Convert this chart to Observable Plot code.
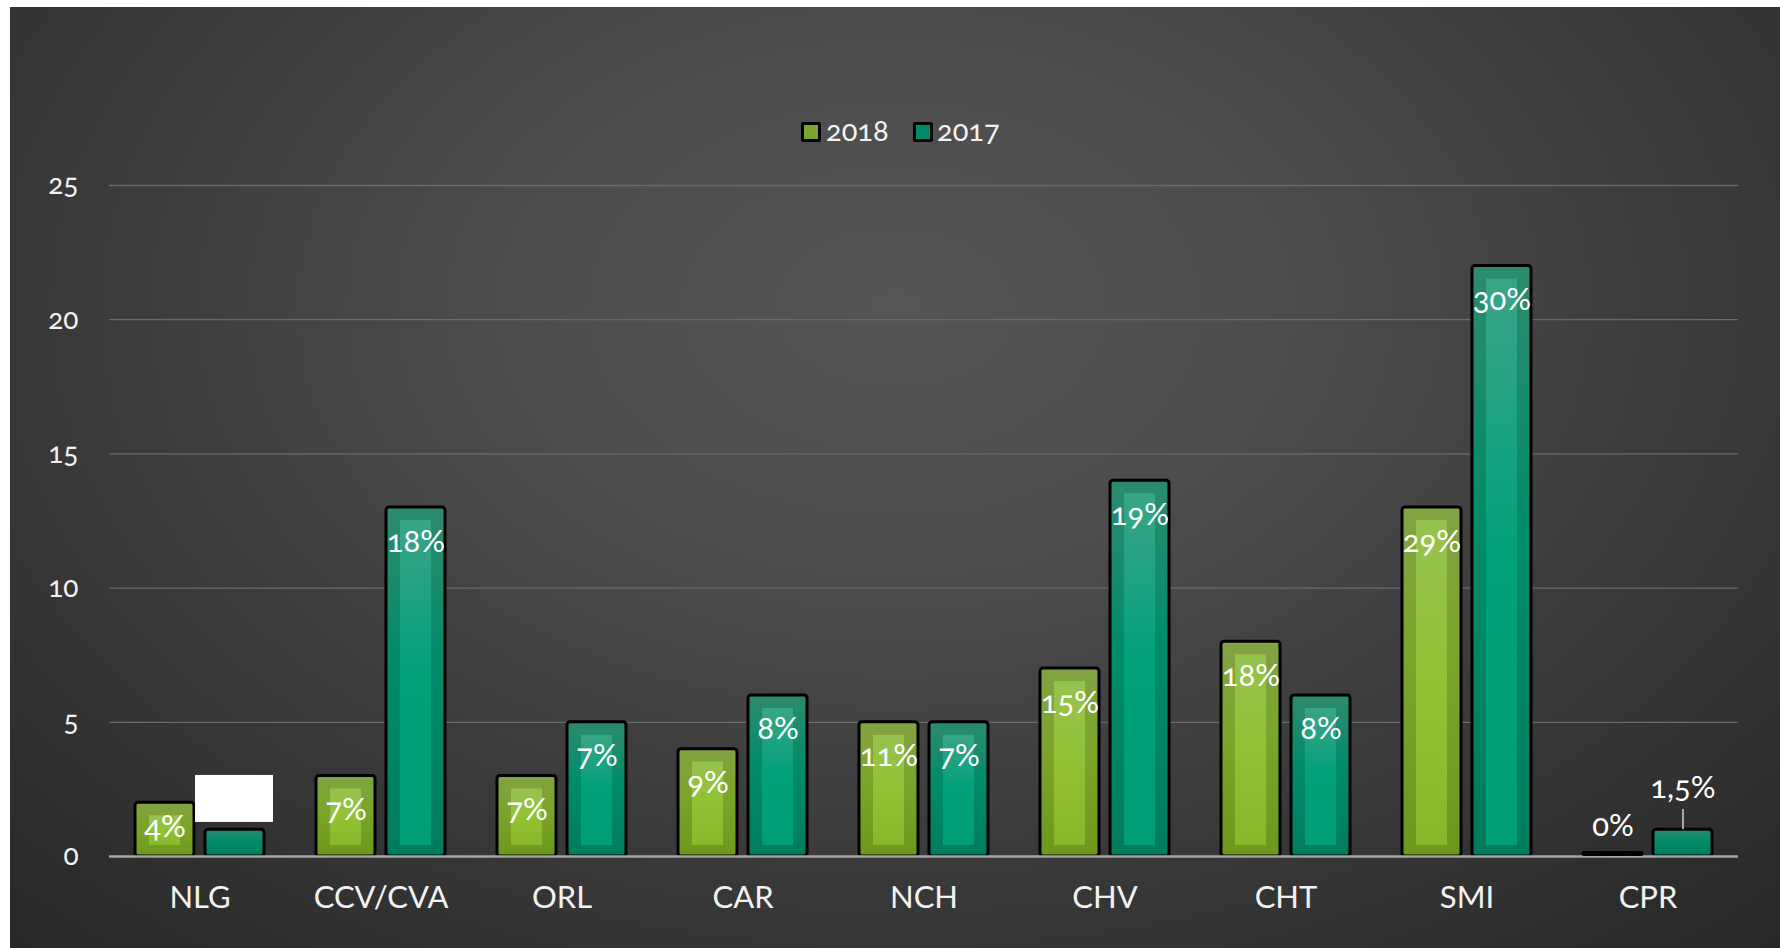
<!DOCTYPE html>
<html>
<head>
<meta charset="utf-8">
<script src="https://cdn.jsdelivr.net/npm/d3@7"></script>
<script src="https://cdn.jsdelivr.net/npm/@observablehq/plot@0.6"></script>
<style>
  html, body { margin: 0; padding: 0; background: #fff; }
  body { width: 1780px; height: 948px; overflow: hidden; position: relative; font-family: Lato, "Open Sans", sans-serif; }
  #panel {
    position: absolute; left: 10px; top: 7px; width: 1770px; height: 941px;
    background: radial-gradient(ellipse 75% 95% at 50% 32%, #555555 0%, #4c4c4c 30%, #383838 65%, #262626 100%);
    overflow: hidden;
  }
  #chart { position: absolute; left: 0; top: 0; }
  .leg { position: absolute; color: #f2f2f2; font-size: 29px; line-height: 29px; font-variant-numeric: oldstyle-nums; }
  .sw { position: absolute; width: 14px; height: 14px; border: 3px solid #000; border-radius: 2px; }
  svg text { font-variant-numeric: oldstyle-nums; }
</style>
</head>
<body>
<div id="panel">
  <div id="chart"></div>
  <div class="sw" style="left:791px; top:115px; background:#7aa52c;"></div>
  <div class="leg" style="left:816px; top:108px;">2018</div>
  <div class="sw" style="left:903px; top:115px; background:#008a68;"></div>
  <div class="leg" style="left:927px; top:108px;">2017</div>
</div>
<script>
const categories = ["NLG", "CCV/CVA", "ORL", "CAR", "NCH", "CHV", "CHT", "SMI", "CPR"];
const years = ["2018", "2017"];
const v2018 = [2, 3, 3, 4, 5, 7, 8, 13, 0];
const v2017 = [1, 13, 5, 6, 5, 14, 6, 22, 1];
const lab2018 = ["4%", "7%", "7%", "9%", "11%", "15%", "18%", "29%", "0%"];
const lab2017 = ["", "18%", "7%", "8%", "7%", "19%", "8%", "30%", "1,5%"];
const yTicks = [0, 5, 10, 15, 20, 25];
const coverBox = [{cat: "NLG", year: "2017", y1: 1.27, y2: 3.02}];
const leader = [{cat: "CPR", year: "2017", y1: 1, y2: 1.75}];

const rows = categories.flatMap((c, i) => [
  {cat: c, year: "2018", value: v2018[i], label: lab2018[i]},
  {cat: c, year: "2017", value: v2017[i], label: lab2017[i]}
]);

const inside = rows.filter(d => d.value >= 3 && d.label);
const small = rows.filter(d => d.value === 2 && d.label);
const outside = rows.filter(d => d.value <= 1 && d.label);

const barCommon = {fx: "cat", x: "year", y: "value", stroke: "#000", strokeWidth: 3, rx: 3};
const FONT = "Lato, 'Open Sans', sans-serif";

const chart = Plot.plot({
  width: 1770,
  height: 941,
  marginLeft: 98,
  marginRight: 42,
  marginTop: 178,
  marginBottom: 92,
  style: {background: "transparent", color: "#f2f2f2", fontFamily: FONT, overflow: "visible"},
  fx: {domain: categories, padding: 0, label: null, axis: null},
  x: {domain: years, paddingInner: 0.16, paddingOuter: 0.37, axis: null},
  y: {domain: [0, 25], label: null, axis: null},
  marks: [
    Plot.ruleY(yTicks.filter(t => t > 0), {stroke: "#6a6a6a", strokeWidth: 1.3}),
    Plot.axisY(yTicks, {tickSize: 0, tickPadding: 31, fontSize: 28, label: null, fill: "#f2f2f2"}),
    Plot.axisFx({anchor: "bottom", tickSize: 0, tickPadding: 29, fontSize: 31, label: null, fill: "#f2f2f2"}),
    Plot.barY(rows, {...barCommon, filter: d => d.year === "2018" && d.value > 0, fill: "url(#gOuter18)"}),
    Plot.barY(rows, {...barCommon, filter: d => d.year === "2017" && d.value > 0, fill: "url(#gOuter17)"}),
    Plot.barY(rows, {fx: "cat", x: "year", y: "value", filter: d => d.year === "2018" && d.value >= 2, fill: "url(#gInner18)", insetLeft: 14, insetRight: 14, insetTop: 13, insetBottom: 11}),
    Plot.barY(rows, {fx: "cat", x: "year", y: "value", filter: d => d.year === "2017" && d.value >= 2, fill: "url(#gInner17)", insetLeft: 14, insetRight: 14, insetTop: 13, insetBottom: 11}),
    Plot.ruleY([0], {stroke: "#a6a6a6", strokeWidth: 2.5}),
    Plot.barY(rows, {fx: "cat", x: "year", y1: "value", y2: "value", filter: d => d.value === 0, fill: "#000", insetTop: -5, insetBottom: 0, insetLeft: -1.5, insetRight: -1.5, rx: 2.5}),
    Plot.barY(coverBox, {fx: "cat", x: "year", y1: "y1", y2: "y2", fill: "#fff", insetLeft: -10, insetRight: -9}),
    Plot.ruleX(leader, {fx: "cat", x: "year", y1: "y1", y2: "y2", stroke: "#a6a6a6", strokeWidth: 2}),
    Plot.text(inside, {fx: "cat", x: "year", y: "value", text: "label", dy: 34, fill: "#fff", fontSize: 31}),
    Plot.text(small, {fx: "cat", x: "year", y: "value", text: "label", dy: 24, fill: "#fff", fontSize: 31}),
    Plot.text(outside.filter(d => d.value === 0), {fx: "cat", x: "year", y: "value", text: "label", dy: -30, fill: "#fff", fontSize: 31}),
    Plot.text(outside.filter(d => d.value > 0), {fx: "cat", x: "year", y: "value", text: "label", dy: -42, fill: "#fff", fontSize: 31})
  ]
});

d3.select(chart).insert("defs", ":first-child").html(`
  <linearGradient id="gOuter18" x1="0" y1="0" x2="0" y2="1">
    <stop offset="0%" stop-color="#82a343"/>
    <stop offset="45%" stop-color="#7aa52a"/>
    <stop offset="100%" stop-color="#6c981b"/>
  </linearGradient>
  <linearGradient id="gInner18" x1="0" y1="0" x2="0" y2="1">
    <stop offset="0%" stop-color="#97c250"/>
    <stop offset="50%" stop-color="#92c234"/>
    <stop offset="100%" stop-color="#88b82a"/>
  </linearGradient>
  <linearGradient id="gOuter17" x1="0" y1="0" x2="0" y2="1">
    <stop offset="0%" stop-color="#2e8a6e"/>
    <stop offset="45%" stop-color="#008c69"/>
    <stop offset="100%" stop-color="#007c5d"/>
  </linearGradient>
  <linearGradient id="gInner17" x1="0" y1="0" x2="0" y2="1">
    <stop offset="0%" stop-color="#3aa587"/>
    <stop offset="50%" stop-color="#00a079"/>
    <stop offset="100%" stop-color="#009e77"/>
  </linearGradient>
`);

document.getElementById("chart").appendChild(chart);
</script>
</body>
</html>
